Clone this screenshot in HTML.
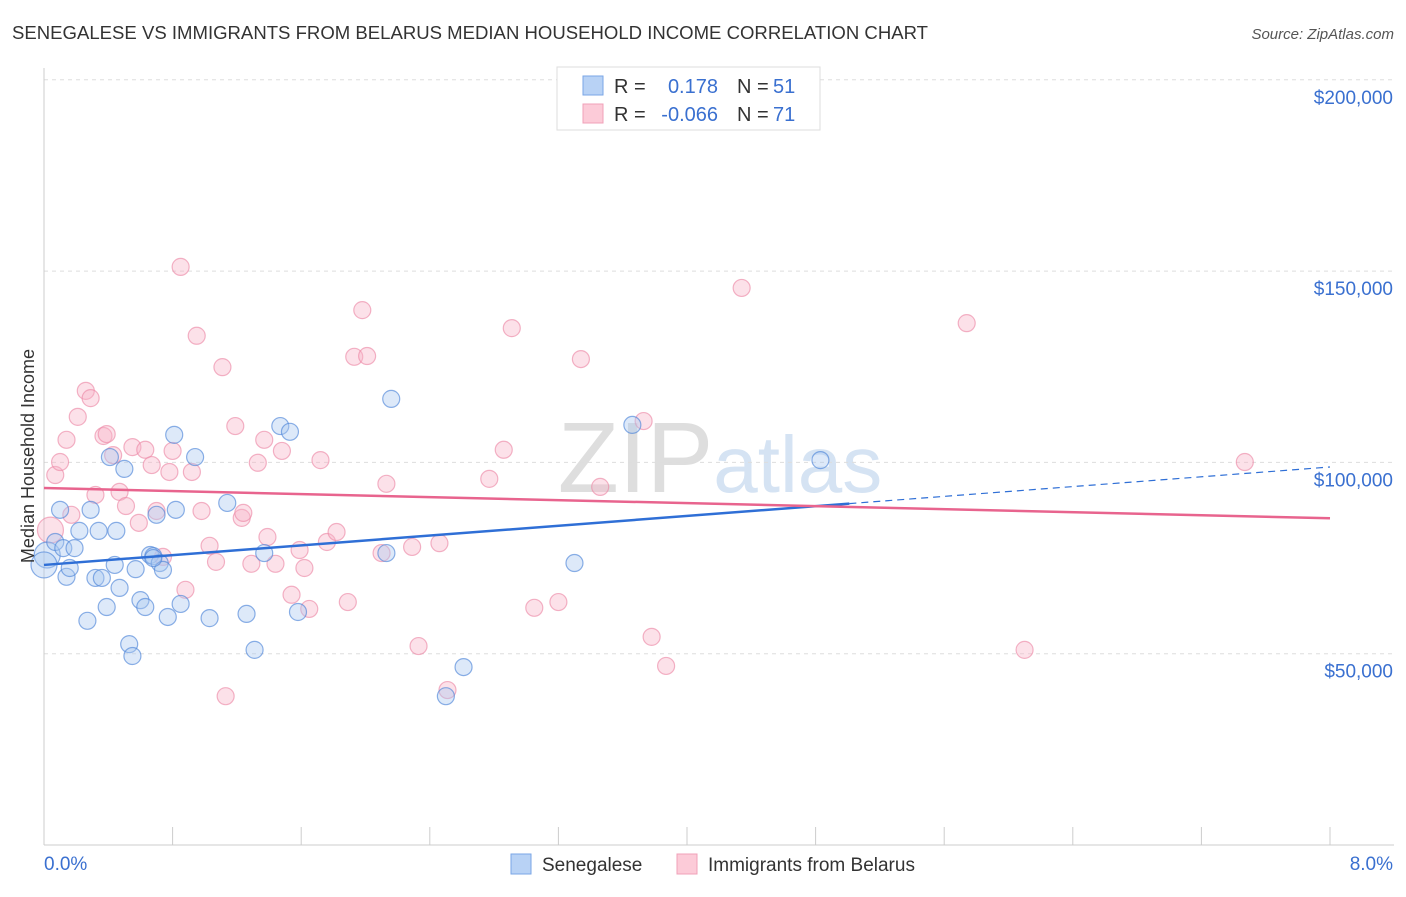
<!DOCTYPE html>
<html><head><meta charset="utf-8"><style>
body{margin:0;background:#fff;font-family:"Liberation Sans",sans-serif;}
svg text{font-family:"Liberation Sans",sans-serif;}
</style></head><body>
<svg id="chart" width="1406" height="892" viewBox="0 0 1406 892" xmlns="http://www.w3.org/2000/svg">
<text x="12" y="39" font-size="18" fill="#333" textLength="916" lengthAdjust="spacingAndGlyphs">SENEGALESE VS IMMIGRANTS FROM BELARUS MEDIAN HOUSEHOLD INCOME CORRELATION CHART</text>
<text x="1394" y="39" font-size="15" fill="#555" text-anchor="end" font-style="italic">Source: ZipAtlas.com</text>
<text x="720" y="492" font-size="100" fill="#e4e4e4" text-anchor="middle" font-family="Liberation Serif"><tspan fill="#dedede">ZIP</tspan><tspan fill="#d5e3f3" font-family="Liberation Sans" font-size="80">atlas</tspan></text>
<g id="grid"></g>
<g id="axes"></g>
<g id="pts"></g>
<g id="trends"></g>
<text transform="translate(34,456) rotate(-90)" font-size="18" fill="#333" text-anchor="middle">Median Household Income</text>
<g>
<rect x="557" y="67" width="263" height="63" fill="#fff" stroke="#ddd"/>
<rect x="583" y="76" width="20" height="19" fill="#b8d2f5" stroke="#7aa6e6"/>
<rect x="583" y="104" width="20" height="19" fill="#fccbd8" stroke="#f0a0b8"/>
<text x="614" y="93" font-size="20" fill="#333">R =</text>
<text x="718" y="93" font-size="20" fill="#3a70d0" text-anchor="end">0.178</text>
<text x="737" y="93" font-size="20" fill="#333">N =</text>
<text x="773" y="93" font-size="20" fill="#3a70d0">51</text>
<text x="614" y="121" font-size="20" fill="#333">R =</text>
<text x="718" y="121" font-size="20" fill="#3a70d0" text-anchor="end">-0.066</text>
<text x="737" y="121" font-size="20" fill="#333">N =</text>
<text x="773" y="121" font-size="20" fill="#3a70d0">71</text>
</g>
<g>
<rect x="511" y="854" width="20" height="20" fill="#b8d2f5" stroke="#7aa6e6"/>
<text x="542" y="871" font-size="19" fill="#333">Senegalese</text>
<rect x="677" y="854" width="20" height="20" fill="#fccbd8" stroke="#f0a0b8"/>
<text x="708" y="871" font-size="19" fill="#333">Immigrants from Belarus</text>
</g>
</svg>
<script>
const yTicks=[50000,100000,150000,200000];
const yTickLabels=["$50,000","$100,000","$150,000","$200,000"];
const xTickCount=10;
const xLabels=["0.0%","8.0%"];
const blueX=[0.02,0.07,0.10,0.12,0.14,0.16,0.19,0.22,0.27,0.29,0.32,0.34,0.36,0.39,0.41,0.44,0.45,0.47,0.50,0.53,0.55,0.57,0.60,0.63,0.66,0.68,0.70,0.72,0.74,0.77,0.81,0.82,0.85,0.94,1.03,1.14,1.26,1.31,1.37,1.47,1.53,1.58,2.13,2.16,2.50,2.61,3.30,3.66,4.83,0.00,0.68];
const blueY=[75.8,79.2,87.6,77.6,70.1,72.4,77.6,82.1,58.6,87.6,69.8,82.1,69.8,62.2,101.4,73.2,82.1,67.2,98.3,52.5,49.4,72.1,64.0,62.2,75.8,75.5,86.3,73.7,71.9,59.6,107.2,87.6,63.0,101.4,59.3,89.4,60.4,51.0,76.3,109.5,108.0,60.9,76.3,116.6,38.9,46.5,73.7,109.8,100.6,73.2,75.0];
const pinkX=[0.04,0.07,0.10,0.14,0.17,0.21,0.26,0.29,0.32,0.37,0.39,0.43,0.47,0.51,0.55,0.59,0.63,0.67,0.70,0.74,0.78,0.80,0.85,0.88,0.92,0.95,0.98,1.03,1.07,1.11,1.13,1.19,1.23,1.24,1.29,1.33,1.37,1.39,1.44,1.48,1.54,1.59,1.62,1.65,1.72,1.76,1.82,1.89,1.93,1.98,2.01,2.10,2.13,2.29,2.33,2.46,2.51,2.77,2.86,2.91,3.05,3.20,3.34,3.46,3.73,3.78,3.87,4.34,5.74,6.10,7.47];
const pinkY=[82.3,96.7,100.1,105.9,86.3,111.9,118.7,116.8,91.5,106.9,107.4,101.9,92.3,88.6,104.0,84.2,103.3,99.3,87.3,75.3,97.5,103.0,151.1,66.7,97.5,133.1,87.3,78.2,74.0,124.9,38.9,109.5,85.5,86.8,73.5,99.9,105.9,80.5,73.5,103.0,65.4,77.1,72.4,61.7,100.6,79.2,81.8,63.5,127.6,139.8,127.8,76.3,94.4,77.9,52.0,78.9,40.5,95.7,103.3,135.1,62.0,63.5,127.0,93.6,110.8,54.4,46.8,145.6,136.4,51.0,100.1];
const blueTrend=[73.2,98.8];
const pinkTrend=[93.3,85.4];
const blueSolidEnd=5.01;

const X0=44,X1=1330,YB=845,PX=191.3/50;
const sx=v=>X0+(v/8)*(X1-X0);
const sy=k=>YB-k*PX;
const NS="http://www.w3.org/2000/svg";
function mk(t,a,p){const e=document.createElementNS(NS,t);for(const k in a)e.setAttribute(k,a[k]);p.appendChild(e);return e;}
const grid=document.getElementById('grid'),axes=document.getElementById('axes'),pts=document.getElementById('pts'),tr=document.getElementById('trends');
yTicks.forEach((v,i)=>{const y=sy(v/1000);
 const l=mk('line',{x1:X0,x2:1394,y1:y,y2:y,stroke:'#ddd','stroke-dasharray':'4,4'},grid);
 
 
 const t=mk('text',{x:1393,y:y+24,'font-size':19,fill:'#3a70d0','text-anchor':'end'},axes);t.textContent=yTickLabels[i];
 
 
});
const ax=mk('line',{x1:X0,x2:1394,y1:YB,y2:YB,stroke:'#ccc'},axes);


const ay=mk('line',{x1:X0,x2:X0,y1:68,y2:YB,stroke:'#ccc'},axes);


for(let i=0;i<=xTickCount;i++){const x=X0+i*(X1-X0)/xTickCount;
 const t=mk('line',{x1:x,x2:x,y1:YB,y2:YB-18,stroke:'#ccc'},axes);
 
 }
const xl0=mk('text',{x:44,y:870,'font-size':19,fill:'#3a70d0'},axes);xl0.textContent=xLabels[0];


const xl1=mk('text',{x:1393,y:870,'font-size':19,fill:'#3a70d0','text-anchor':'end'},axes);xl1.textContent=xLabels[1];


function draw(xs,ys,fill,stroke,name){xs.forEach((v,i)=>{
 const c=mk('circle',{cx:sx(v),cy:sy(ys[i]),r:(v<0.06?13:8.5),fill:fill,'fill-opacity':0.4,stroke:stroke,'stroke-opacity':0.65,'stroke-width':1.2},pts);
 
 });}
draw(pinkX,pinkY,'#f8b4c8','#ec8aa8','belarus-point');
draw(blueX,blueY,'#a9c8f0','#4f86d8','senegalese-point');
const bt=v=>blueTrend[0]+(blueTrend[1]-blueTrend[0])*v/8;
const l1=mk('line',{x1:sx(0),y1:sy(bt(0)),x2:sx(blueSolidEnd),y2:sy(bt(blueSolidEnd)),stroke:'#2f6fd6','stroke-width':2.5},tr);


const l2=mk('line',{x1:sx(blueSolidEnd),y1:sy(bt(blueSolidEnd)),x2:sx(8),y2:sy(bt(8)),stroke:'#2f6fd6','stroke-width':1.2,'stroke-dasharray':'7,5'},tr);


const l3=mk('line',{x1:sx(0),y1:sy(pinkTrend[0]),x2:sx(8),y2:sy(pinkTrend[1]),stroke:'#e8648e','stroke-width':2.5},tr);


</script>
</body></html>
